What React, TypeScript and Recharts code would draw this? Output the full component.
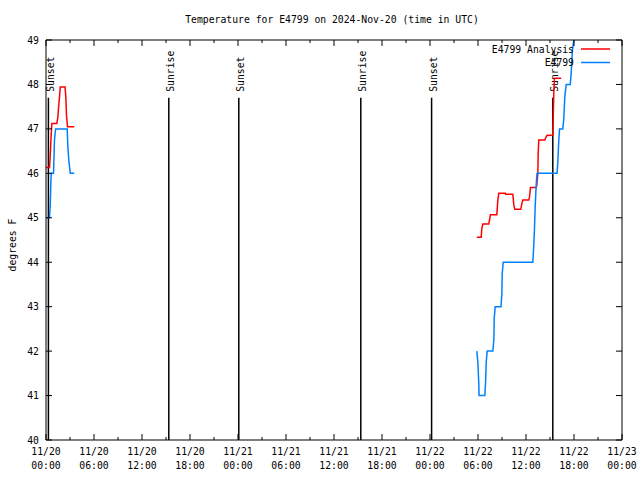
import React from 'react';
import { LineChart, Line, XAxis, YAxis, ReferenceLine } from 'recharts';

const FONT = '"DejaVu Sans Mono", monospace';
const FS = 9.75;

// Hours since 2024-11-20 00:00 UTC; null marks the gap in reporting
const analysisHours = [
  0, 0.44, 0.53, 0.65, 0.73, 1.35, 1.48, 1.56, 1.69, 1.78, 2.38, 2.48, 2.56, 2.69, 3.53,
  30,
  53.85, 54.4, 54.48, 54.6, 55.35, 55.56, 56.35, 56.48, 56.6, 57.4, 57.44, 58.35, 58.48, 58.6,
  59.35, 59.48, 59.6, 60.35, 60.44, 60.56, 61.28, 61.35, 61.48, 61.53, 61.6, 62.35, 62.44, 62.6,
  63.35, 63.48, 63.56, 64.4,
];
const analysisTemps: (number | null)[] = [
  46.13, 46.13, 46.4, 46.88, 47.12, 47.12, 47.26, 47.46, 47.72, 47.94, 47.94, 47.72, 47.3, 47.05, 47.05,
  null,
  44.56, 44.56, 44.76, 44.86, 44.86, 45.07, 45.07, 45.4, 45.55, 45.55, 45.53, 45.53, 45.29, 45.19,
  45.19, 45.32, 45.4, 45.4, 45.47, 45.68, 45.68, 45.74, 46.0, 46.49, 46.75, 46.75, 46.79, 46.85,
  46.86, 47.84, 48.14, 48.14,
];

const obsHours = [
  0, 0.44, 0.53, 0.6, 0.65, 0.94, 0.98, 1.06, 1.2, 2.65, 2.73, 2.85, 3.03, 3.53,
  30,
  53.85, 53.98, 54.1, 54.14, 54.85, 54.94, 55.03, 55.15, 55.85, 55.98, 56.03, 56.15, 56.88, 56.98,
  57.03, 57.15, 60.85, 60.94, 61.06, 61.15, 61.28, 61.38, 63.88, 63.98, 64.1, 64.19, 64.6, 64.73,
  64.85, 65.03, 65.53, 65.65, 65.78, 65.98, 66.15,
];
const obsTemps: (number | null)[] = [
  45.0, 45.0, 45.3, 45.75, 46.0, 46.0, 46.25, 46.75, 47.0, 47.0, 46.6, 46.3, 46.0, 46.0,
  null,
  42.0, 41.76, 41.26, 41.0, 41.0, 41.27, 41.76, 42.0, 42.0, 42.25, 42.74, 43.0, 43.0, 43.27,
  43.75, 44.0, 44.0, 44.26, 44.76, 45.27, 45.76, 46.0, 46.0, 46.26, 46.75, 47.0, 47.0, 47.24,
  47.72, 48.0, 48.0, 48.25, 48.74, 49.0, 49.3,
];

const xTickHours = [0, 3, 6, 9, 12, 15, 18, 21, 24, 27, 30, 33, 36, 39, 42, 45, 48, 51, 54, 57, 60, 63, 66, 69, 72];
const xLabelDates = ['11/20', '11/20', '11/20', '11/20', '11/21', '11/21', '11/21', '11/21', '11/22', '11/22', '11/22', '11/22', '11/23'];
const xLabelTimes = ['00:00', '06:00', '12:00', '18:00', '00:00', '06:00', '12:00', '18:00', '00:00', '06:00', '12:00', '18:00', '00:00'];
const yTicks = [40, 41, 42, 43, 44, 45, 46, 47, 48, 49];

const sunsetHours = [0.3, 24.1, 48.2];
const sunriseHours = [15.35, 39.35, 63.35];
const sunLineTop = 47.7;

const seriesNames = ['E4799 Analysis', 'E4799'];
const seriesColors = ['#ff0000', '#0080ff'];

const analysisData = analysisHours.map((h, i) => ({ hour: h, temp: analysisTemps[i] }));
const obsData = obsHours.map((h, i) => ({ hour: h, temp: obsTemps[i] }));

const txt = { fontFamily: FONT, fontSize: FS, fill: '#000' } as const;

const BottomTick = (p: any) => {
  const { x, y, payload } = p;
  const h = payload.value as number;
  const major = h % 6 === 0;
  const idx = h / 6;
  return (
    <g>
      <line x1={x} y1={y} x2={x} y2={y - (major ? 6 : 3)} stroke="#000" />
      {major && (
        <text x={x} textAnchor="middle" {...txt}>
          <tspan x={x} y={y + 14.5}>{xLabelDates[idx]}</tspan>
          <tspan x={x} y={y + 28.5}>{xLabelTimes[idx]}</tspan>
        </text>
      )}
    </g>
  );
};

const TopTick = (p: any) => {
  const { x, y, payload } = p;
  const major = (payload.value as number) % 6 === 0;
  return <line x1={x} y1={y} x2={x} y2={y + (major ? 6 : 3)} stroke="#000" />;
};

const LeftTick = (p: any) => {
  const { x, y, payload } = p;
  return (
    <g>
      <line x1={x} y1={y} x2={x + 6} y2={y} stroke="#000" />
      <text x={x - 7} y={y} textAnchor="end" dominantBaseline="central" {...txt}>
        {payload.value}
      </text>
    </g>
  );
};

const RightTick = (p: any) => {
  const { x, y } = p;
  return <line x1={x} y1={y} x2={x - 6} y2={y} stroke="#000" />;
};

const sunLabel = (text: string) => (props: any) => {
  const vb = props.viewBox || { x: 0, y: 0 };
  const x = vb.x + 5.5;
  const y = vb.y - 6;
  return (
    <text x={x} y={y} transform={`rotate(-90 ${x} ${y})`} {...txt}>
      {text}
    </text>
  );
};

export default function App() {
  return (
    <div style={{ position: 'absolute', left: 0, top: 0, width: 640, height: 480, background: '#fff' }}>
      <LineChart width={640} height={480} margin={{ top: 0, right: 0, bottom: 0, left: 0 }}>
        <XAxis
          xAxisId="b"
          dataKey="hour"
          type="number"
          domain={[0, 72]}
          ticks={xTickHours}
          interval={0}
          orientation="bottom"
          height={40}
          tickSize={0}
          tickMargin={0}
          tickLine={false}
          axisLine={{ stroke: '#000' }}
          tick={BottomTick}
          allowDataOverflow
        />
        <XAxis
          xAxisId="t"
          dataKey="hour"
          type="number"
          domain={[0, 72]}
          ticks={xTickHours}
          interval={0}
          orientation="top"
          height={40}
          tickSize={0}
          tickMargin={0}
          tickLine={false}
          axisLine={{ stroke: '#000' }}
          tick={TopTick}
          allowDataOverflow
        />
        <YAxis
          yAxisId="l"
          type="number"
          domain={[40, 49]}
          ticks={yTicks}
          interval={0}
          width={46}
          tickSize={0}
          tickMargin={0}
          tickLine={false}
          axisLine={{ stroke: '#000' }}
          tick={LeftTick}
          allowDataOverflow
        />
        <YAxis
          yAxisId="r"
          orientation="right"
          type="number"
          domain={[40, 49]}
          ticks={yTicks}
          interval={0}
          width={18}
          tickSize={0}
          tickMargin={0}
          tickLine={false}
          axisLine={{ stroke: '#000' }}
          tick={RightTick}
          allowDataOverflow
        />
        {sunsetHours.map((h, i) => (
          <ReferenceLine
            key={'ss' + i}
            xAxisId="b"
            yAxisId="l"
            segment={[{ x: h, y: 40 }, { x: h, y: sunLineTop }]}
            stroke="#000"
            strokeWidth={1.5}
            label={sunLabel('Sunset')}
          />
        ))}
        {sunriseHours.map((h, i) => (
          <ReferenceLine
            key={'sr' + i}
            xAxisId="b"
            yAxisId="l"
            segment={[{ x: h, y: 40 }, { x: h, y: sunLineTop }]}
            stroke="#000"
            strokeWidth={1.5}
            label={sunLabel('Sunrise')}
          />
        ))}
        <Line
          xAxisId="b"
          yAxisId="l"
          data={analysisData}
          dataKey="temp"
          type="linear"
          stroke={seriesColors[0]}
          strokeWidth={1.5}
          dot={false}
          activeDot={false}
          connectNulls={false}
          isAnimationActive={false}
        />
        <Line
          xAxisId="b"
          yAxisId="l"
          data={obsData}
          dataKey="temp"
          type="linear"
          stroke={seriesColors[1]}
          strokeWidth={1.5}
          dot={false}
          activeDot={false}
          connectNulls={false}
          isAnimationActive={false}
        />
      </LineChart>
      <svg
        width={640}
        height={480}
        style={{ position: 'absolute', left: 0, top: 0, pointerEvents: 'none' }}
      >
        <text x={332} y={19} textAnchor="middle" dominantBaseline="central" {...txt}>
          Temperature for E4799 on 2024-Nov-20 (time in UTC)
        </text>
        <text
          x={12}
          y={245}
          textAnchor="middle"
          dominantBaseline="central"
          transform="rotate(-90 12 245)"
          {...txt}
        >
          degrees F
        </text>
        {seriesNames.map((n, i) => (
          <g key={n}>
            <text x={574} y={49 + i * 13.5} textAnchor="end" dominantBaseline="central" {...txt}>
              {n}
            </text>
            <line x1={581} x2={610} y1={49 + i * 13.5} y2={49 + i * 13.5} stroke={seriesColors[i]} strokeWidth={1.5} />
          </g>
        ))}
      </svg>
    </div>
  );
}
